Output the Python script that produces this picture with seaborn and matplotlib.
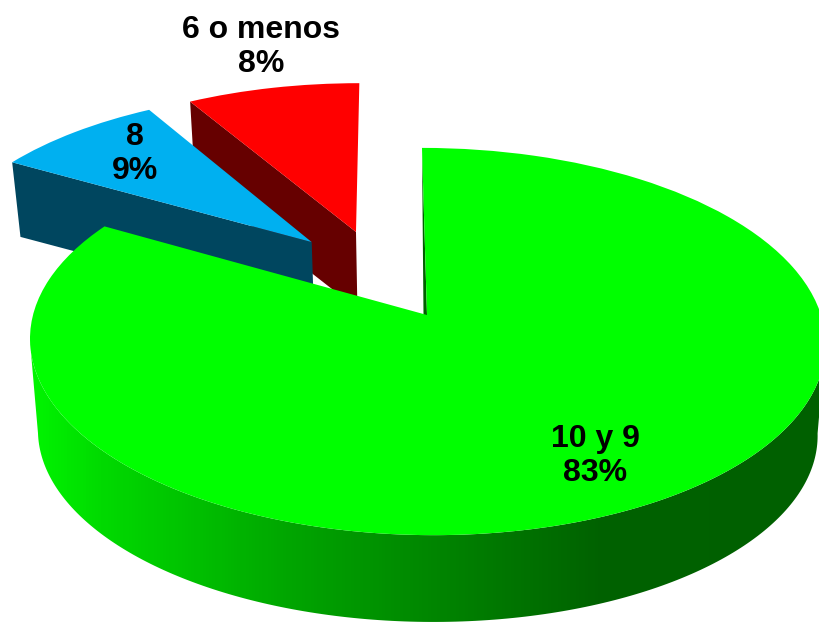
import numpy as np
from matplotlib import pyplot as plt
from matplotlib import transforms as mtransforms
from matplotlib.colors import LinearSegmentedColormap
from matplotlib.patches import Polygon
import seaborn as sns

categories = ["10 y 9", "8", "6 o menos"]
values = [83.3, 8.25, 8.45]
percent_labels = ["83%", "9%", "8%"]
top_colors = ["#00FF00", "#00B0F0", "#FF0000"]
cut_colors = ["#006000", "#00465F", "#660000"]

# slice offsets on the pie plane, and label centres in pixels
offsets = {"10 y 9": (0, 0), "8": (-0.303, 0.405), "6 o menos": (-0.185, 0.465)}
label_pos = {"10 y 9": (595, 456), "8": (135, 154), "6 o menos": (261, 47)}
wall_lift = {"10 y 9": 0, "8": 21, "6 o menos": 17}

# perspective of the pie plane, in pixels
CX, CY, RX, RY, SKEW, TILT = 427, 315, 394, 190, -5.7, 0.137
LOW_CY, LOW_RY, LOW_SHRINK = 407, 185.5, 0.98


def project(pts, lower=False, lift=0):
    pts = np.atleast_2d(pts)
    u, v = pts[:, 0], pts[:, 1]
    w = 1 + TILT * v
    x = (RX * u + SKEW * v) / w
    if lower:
        return np.column_stack([CX + LOW_SHRINK * x, LOW_CY - LOW_RY * v / w - lift])
    return np.column_stack([CX + x, CY - RY * v / w])


class TopFace(mtransforms.Transform):
    input_dims = 2
    output_dims = 2

    def transform_non_affine(self, values):
        return project(values)


def rim(center, radius, theta):
    rad = np.deg2rad(theta)
    return np.column_stack([center[0] + radius * np.cos(rad), center[1] + radius * np.sin(rad)])


sns.set_theme(style="white")
plt.rcParams['font.family'] = ['Liberation Sans', 'DejaVu Sans']

fig = plt.figure(figsize=(8.2, 6.22), dpi=100)
ax = fig.add_axes([0, 0, 1, 1])
wedges, _ = ax.pie(values, colors=top_colors, startangle=90, counterclock=False, radius=1)

wall_cmap = LinearSegmentedColormap.from_list(
    "wall",
    [(0.0, (0, 245 / 255, 0)), (0.09, (0, 218 / 255, 0)), (0.33, (0, 165 / 255, 0)),
     (0.52, (0, 132 / 255, 0)), (0.72, (0, 98 / 255, 0)), (1.0, (0, 96 / 255, 0))])

draw_order = [2, 1, 0]
for z, i in enumerate(draw_order):
    cat = categories[i]
    wedge = wedges[i]
    center = offsets[cat]
    lift = wall_lift[cat]
    wedge.set_center(center)
    wedge.set_transform(TopFace() + ax.transData)
    wedge.set_linewidth(0)
    wedge.set_zorder(z * 3 + 2)

    if i == 0:
        # outer wall of the big slice, shaded left to right
        theta = np.linspace(-172, -8, 200)
        pts = rim(center, wedge.r, theta)
        outline = np.vstack([project(pts), project(pts, lower=True)[::-1]])
        shade = ax.imshow(np.linspace(0, 1, 790)[None, :], cmap=wall_cmap, aspect='auto',
                          extent=(30, 820, 622, 300), zorder=z * 3 + 1)
        clip = Polygon(outline, closed=True, transform=ax.transData)
        shade.set_clip_path(clip)
        # thin sliver of the cut wall beside the gap
        edge = project(rim(center, wedge.r, [wedge.theta2]))[0]
        apex = project([center])[0]
        ax.fill([edge[0], apex[0], apex[0] - 3.5], [edge[1], apex[1], apex[1]],
                color=cut_colors[i], lw=0, zorder=z * 3 + 1)
    else:
        # cut face on the clockwise start of the slice
        edge_pt = rim(center, wedge.r, [wedge.theta2])
        apex_pt = np.array([center], dtype=float)
        poly = np.vstack([project(edge_pt), project(apex_pt),
                          project(apex_pt, lower=True, lift=lift),
                          project(edge_pt, lower=True, lift=lift)])
        ax.fill(poly[:, 0], poly[:, 1], color=cut_colors[i], lw=0, zorder=z * 3 + 1)

ax.set_aspect('auto')
ax.set_xlim(0, 820)
ax.set_ylim(622, 0)
ax.axis('off')

for cat, pct in zip(categories, percent_labels):
    x, y = label_pos[cat]
    ax.text(x, y, f"{cat}\n{pct}", ha="center", va="center", fontsize=23,
            fontweight="bold", color="black", linespacing=1.16, zorder=20)

fig.savefig("out.png", dpi=100, facecolor="white")
